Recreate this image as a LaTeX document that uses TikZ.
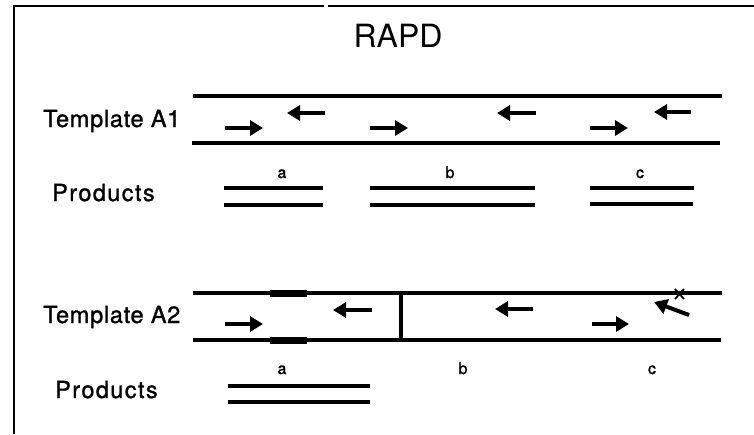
\documentclass[tikz,border=0pt]{standalone}
\usepackage{fontspec}
\setmainfont{TeX Gyre Heros}
\newfontfamily\tmplfont[LetterSpace=3,FakeBold=1.2]{TeX Gyre Heros}
\newfontfamily\prodfont[LetterSpace=6,FakeBold=1.2]{TeX Gyre Heros}
\newfontfamily\segfont[FakeBold=1.5]{TeX Gyre Heros}
\usetikzlibrary{arrows.meta}
\begin{document}
\begin{tikzpicture}[x=1pt,y=-1pt,
  frame/.style={line width=2.2pt},
  strand/.style={line width=4.5pt},
  marked/.style={line width=7pt},
  prod/.style={line width=4pt},
  primer/.style={line width=4pt,-{Triangle[length=13pt,width=15pt]}},
  rowlabel/.style={anchor=base west,inner sep=0pt,font=\tmplfont\fontsize{23.5}{28}\selectfont},
  prodlabel/.style={anchor=base west,inner sep=0pt,font=\prodfont\fontsize{23.5}{28}\selectfont},
  seglabel/.style={anchor=base,inner sep=0pt,font=\segfont\fontsize{16}{19}\selectfont},
  title/.style={anchor=base,inner sep=0pt,font=\fontsize{32}{38}\selectfont}]
\useasboundingbox (0,0) rectangle (754,434);

% open frame: left edge and a top edge with a small break
\draw[frame] (14,434) -- (14,6) -- (324,6);
\draw[frame] (328,6) -- (754,6);

\node[title] (ttl) at (398,47) {RAPD};

% ---------- template A1 ----------
\node[rowlabel] (tA1) at (43,127) {Template A1};
\coordinate (A1tl) at (193,96);  \coordinate (A1tr) at (722,96);
\coordinate (A1bl) at (192,143); \coordinate (A1br) at (720,143);
\draw[strand] (A1tl) -- (A1tr);
\draw[strand] (A1bl) -- (A1br);

\draw[primer] (225,128) -- (263,128);
\draw[primer] (325,113) -- (287,113);
\draw[primer] (370,128) -- (408,128);
\draw[primer] (536,113) -- (497,113);
\draw[primer] (590,128) -- (628,128);
\draw[primer] (691,112) -- (654,112);

\node[prodlabel] (pA1) at (52,201) {Products};
\node[seglabel] (a1) at (282,178) {a};
\node[seglabel] (b1) at (450,178) {b};
\node[seglabel] (c1) at (640,178) {c};
\draw[prod] (224,188) -- (323,188);
\draw[prod] (224,205) -- (323,205);
\draw[prod] (370,188) -- (535,188);
\draw[prod] (370,205) -- (535,205);
\draw[prod] (590,188) -- (694,188);
\draw[prod] (590,204) -- (693,204);

% ---------- template A2 ----------
\node[rowlabel] (tA2) at (43,323) {Template A2};
\coordinate (A2tl) at (193,293); \coordinate (A2tr) at (722,293);
\coordinate (A2bl) at (193,340); \coordinate (A2br) at (721,340);
\draw[strand] (A2tl) -- (A2tr);
\draw[strand] (A2bl) -- (A2br);
\draw[marked] (270,293) -- (307,293);
\draw[marked] (270,340) -- (307,340);
\draw[line width=3.5pt] (401,293) -- (401,340);

\draw[primer] (225,324) -- (263,324);
\draw[primer] (372,310) -- (333,310);
\draw[primer] (533,309) -- (495,309);
\draw[primer] (592,324) -- (629,324);
\draw[primer] (689,315) -- (654,302);
% mismatch mark
\draw[line width=1.8pt] (675,289) -- (684,299) (675,299) -- (684,289);

\node[prodlabel] (pA2) at (55,398) {Products};
\node[seglabel] (a2) at (282,374) {a};
\node[seglabel] (b2) at (463,374) {b};
\node[seglabel] (c2) at (652,374) {c};
\draw[prod] (228,386) -- (370,386);
\draw[prod] (228,402) -- (370,402);
\end{tikzpicture}
\end{document}
